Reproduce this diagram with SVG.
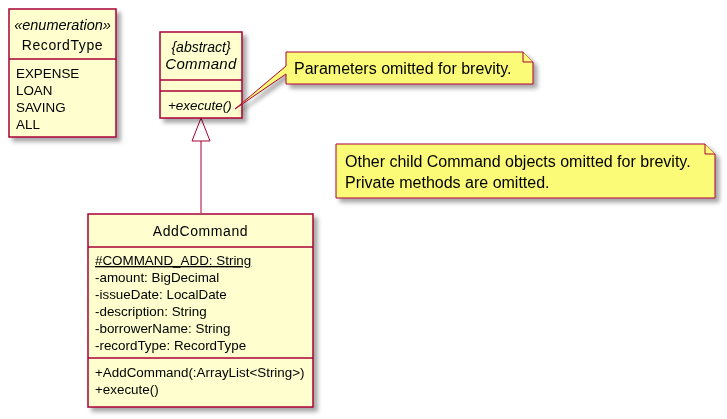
<svg xmlns="http://www.w3.org/2000/svg" width="727" height="419" viewBox="0 0 727 419">
<style>
.cls{fill:#FEFECE;stroke:#A80036;stroke-width:1.5}
.sep{stroke:#A80036;stroke-width:1.5}
.note{fill:#FBFB77;stroke:#A80036;stroke-width:1}
.t{font-family:"Liberation Sans",Arial,sans-serif;fill:#000}
.name{font-size:14px;letter-spacing:0.6px}
.attr{font-size:13.4px}
.nt{font-size:16px}
.edge{stroke:#A80036;stroke-width:1;fill:none}
</style>
<defs>
<filter id="sh" x="-10%" y="-10%" width="130%" height="130%">
<feGaussianBlur in="SourceAlpha" stdDeviation="2"/>
<feOffset dx="4" dy="4" result="b"/>
<feColorMatrix in="b" type="matrix" values="0 0 0 0 0  0 0 0 0 0  0 0 0 0 0  0 0 0 0.35 0"/>
<feMerge><feMergeNode/><feMergeNode in="SourceGraphic"/></feMerge>
</filter>
</defs>
<rect width="727" height="419" fill="#FFFFFF"/>

<g id="connectors">
<line class="edge" x1="201" y1="141" x2="201" y2="213"/>
<polygon points="201,118 192,141 210,141" fill="none" stroke="#A80036" stroke-width="1"/>
</g>

<g id="RecordType" filter="url(#sh)">
<rect class="cls" x="9" y="9" width="107" height="128"/>
<line class="sep" x1="9" y1="59" x2="116" y2="59"/>
<text class="t" x="62.5" y="30" text-anchor="middle" font-style="italic" font-size="14.5px">«enumeration»</text>
<text class="t name" x="62.5" y="50" text-anchor="middle">RecordType</text>
<text class="t attr" x="16" y="78">EXPENSE</text>
<text class="t attr" x="16" y="95">LOAN</text>
<text class="t attr" x="16" y="112">SAVING</text>
<text class="t attr" x="16" y="129">ALL</text>
</g>

<g id="Command" filter="url(#sh)">
<rect class="cls" x="160" y="32" width="82" height="86"/>
<line class="sep" x1="160" y1="80" x2="242" y2="80"/>
<line class="sep" x1="160" y1="91" x2="242" y2="91"/>
<text class="t" x="201" y="52" text-anchor="middle" font-style="italic" font-size="14px">{abstract}</text>
<text class="t" x="201" y="69" text-anchor="middle" font-style="italic" font-size="15px" letter-spacing="0.3px">Command</text>
<text class="t attr" x="168" y="110" font-style="italic">+execute()</text>
</g>

<g id="AddCommand" filter="url(#sh)">
<rect class="cls" x="88" y="214" width="225" height="193"/>
<line class="sep" x1="88" y1="247" x2="313" y2="247"/>
<line class="sep" x1="88" y1="358" x2="313" y2="358"/>
<text class="t name" x="200.5" y="236" text-anchor="middle">AddCommand</text>
<text class="t attr" x="95" y="265" text-decoration="underline">#COMMAND_ADD: String</text>
<text class="t attr" x="95" y="282">-amount: BigDecimal</text>
<text class="t attr" x="95" y="299">-issueDate: LocalDate</text>
<text class="t attr" x="95" y="316">-description: String</text>
<text class="t attr" x="95" y="333">-borrowerName: String</text>
<text class="t attr" x="95" y="350">-recordType: RecordType</text>
<text class="t attr" x="95" y="377">+AddCommand(:ArrayList&lt;String&gt;)</text>
<text class="t attr" x="95" y="394">+execute()</text>
</g>

<g id="note1" filter="url(#sh)">
<path class="note" d="M286,52 L523,52 L533,62 L533,84 L286,84 L286,74 L235,109 L286,66 Z"/>
<path class="note" d="M523,52 L523,62 L533,62"/>
<text class="t nt" x="294" y="74">Parameters omitted for brevity.</text>
</g>

<g id="note2" filter="url(#sh)">
<path class="note" d="M336,144 L705,144 L715,154 L715,198 L336,198 Z"/>
<path class="note" d="M705,144 L705,154 L715,154"/>
<text class="t nt" x="345" y="167">Other child Command objects omitted for brevity.</text>
<text class="t nt" x="345" y="188">Private methods are omitted.</text>
</g>
</svg>
